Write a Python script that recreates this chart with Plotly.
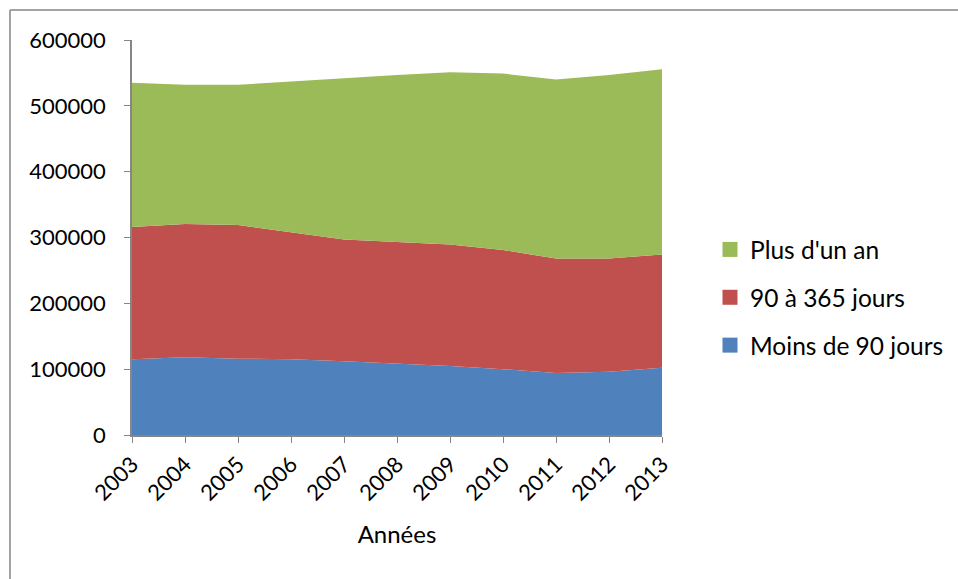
import plotly.graph_objects as go

years = [2003, 2004, 2005, 2006, 2007, 2008, 2009, 2010, 2011, 2012, 2013]
moins_90 = [115000, 118000, 116000, 115000, 112000, 109000, 105000, 100000, 94000, 96000, 102000]
de_90_a_365 = [201000, 202500, 203000, 193000, 185000, 184000, 184500, 181000, 174000, 172000, 172000]
plus_un_an = [219000, 211500, 213000, 228500, 245000, 254000, 261500, 268000, 272000, 279000, 281500]

FONT = "Lato"
fig = go.Figure()
series = [
    ("Moins de 90 jours", moins_90, "#4F81BD", 3),
    ("90 à 365 jours", de_90_a_365, "#C0504D", 2),
    ("Plus d'un an", plus_un_an, "#9BBB59", 1),
]
for name, vals, col, rank in series:
    fig.add_trace(go.Scatter(
        x=years, y=vals, name=name, stackgroup="one", mode="lines",
        line=dict(width=0, color=col), fillcolor=col, showlegend=False,
    ))
for name, vals, col, rank in series:
    fig.add_trace(go.Scatter(
        x=[None], y=[None], name=name, mode="markers", legendrank=rank,
        legendgroup=name,
        marker=dict(symbol="square", size=15, color=col, line=dict(width=0)),
    ))

W, H = 958, 579
l, r, t, b = 132, 296, 40, 144
pw, ph = W - l - r, H - t - b

fig.update_layout(
    width=W, height=H,
    margin=dict(l=l, r=r, t=t, b=b, autoexpand=False),
    paper_bgcolor="white", plot_bgcolor="white",
    font=dict(family=FONT, size=22, color="black"),
    showlegend=True,
    legend=dict(traceorder="grouped", tracegroupgap=13,
                x=(710 - l) / pw, y=(H - 227 - b) / ph, xanchor="left", yanchor="top",
                font=dict(size=24.5), itemwidth=30, bgcolor="rgba(0,0,0,0)"),
    xaxis=dict(range=[2003, 2013], tickvals=years, ticktext=[str(y) for y in years],
               tickangle=-45, ticks="outside", ticklen=6, tickcolor="#868686",
               showline=True, linecolor="#868686", linewidth=1.5, showgrid=False,
               zeroline=False, tickfont=dict(size=22), automargin=False,
               title=dict(text="Années", standoff=22, font=dict(size=24))),
    yaxis=dict(range=[0, 600000], dtick=100000, ticks="outside", ticklen=6,
               tickcolor="#868686", showline=True, linecolor="#868686", linewidth=1.5,
               showgrid=False, zeroline=False, tickformat="d", ticklabelstandoff=14,
               automargin=False),
    shapes=[
        dict(type="line", xref="paper", yref="paper",
             x0=(10 - l) / pw, x1=(958 - l) / pw, y0=(H - 10 - b) / ph, y1=(H - 10 - b) / ph,
             line=dict(color="#868686", width=1.5)),
        dict(type="line", xref="paper", yref="paper",
             x0=(10 - l) / pw, x1=(10 - l) / pw, y0=(H - 10 - b) / ph, y1=-b / ph,
             line=dict(color="#868686", width=1.5)),
    ],
)

fig.write_html("out.html", config={"displayModeBar": False},
               post_script="document.body.style.margin='0';document.body.style.overflow='hidden';")
